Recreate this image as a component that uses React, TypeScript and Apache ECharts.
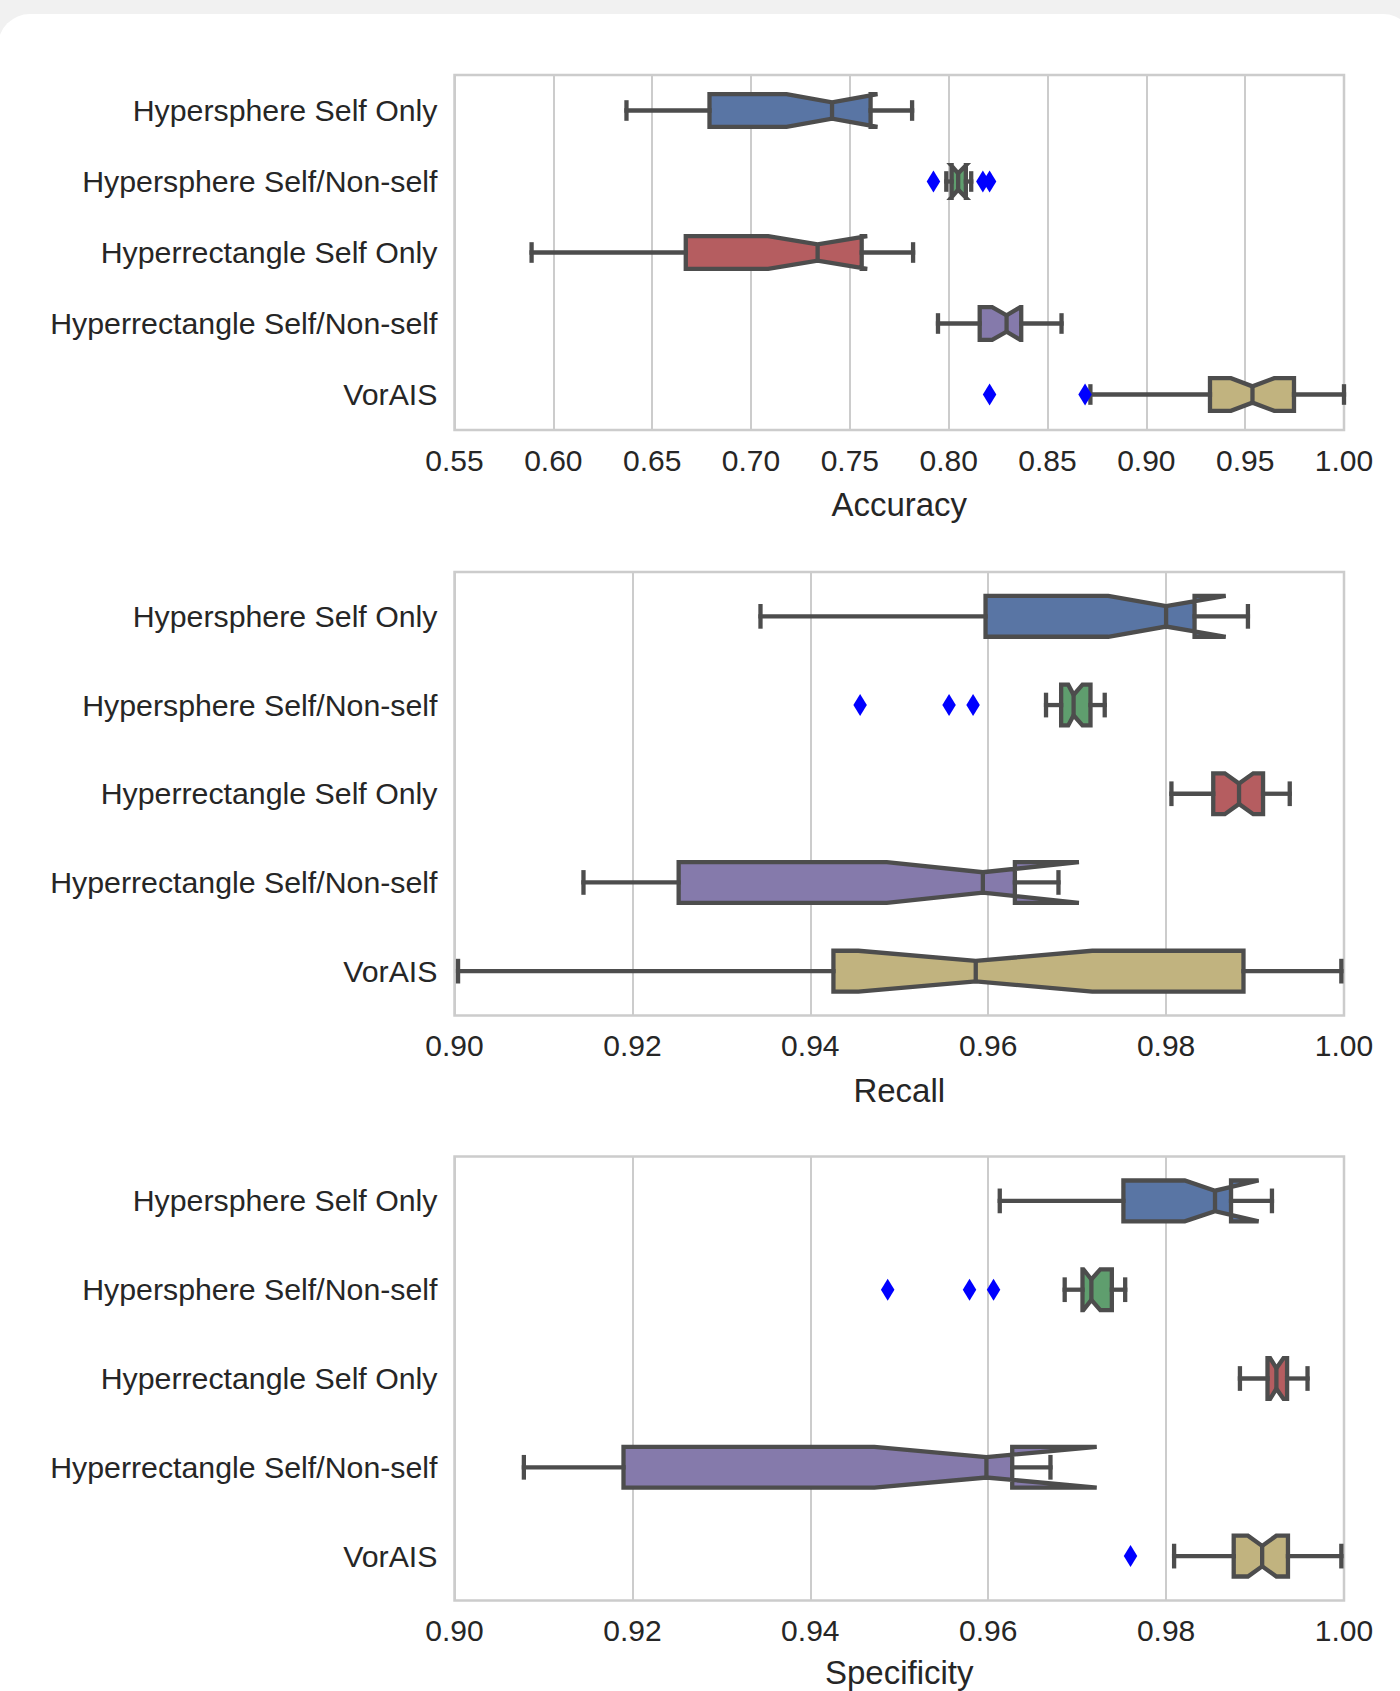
import React, { useEffect, useRef } from "react";
import * as echarts from "echarts";

const categories = [
  "Hypersphere Self Only",
  "Hypersphere Self/Non-self",
  "Hyperrectangle Self Only",
  "Hyperrectangle Self/Non-self",
  "VorAIS",
];

// each row: [whiskerLow, q1, notchLow, median, notchHigh, q3, whiskerHigh]
const accuracyBoxes = [
  [0.637, 0.679, 0.718, 0.741, 0.764, 0.7605, 0.7815],
  [0.7988, 0.8015, 0.8012, 0.8048, 0.8088, 0.8087, 0.8114],
  [0.589, 0.667, 0.7087, 0.7337, 0.7588, 0.756, 0.782],
  [0.7946, 0.8157, 0.822, 0.8293, 0.8362, 0.8367, 0.8571],
  [0.8717, 0.9322, 0.9428, 0.9537, 0.9647, 0.9747, 1.0],
];
const accuracyOutlierValues = [0.7923, 0.8173, 0.8207, 0.8207, 0.869];
const accuracyOutlierRows = [1, 1, 1, 4, 4];

const recallBoxes = [
  [0.9344, 0.9597, 0.9735, 0.98, 0.9867, 0.9832, 0.9892],
  [0.9665, 0.9682, 0.969, 0.9696, 0.9706, 0.9715, 0.9731],
  [0.9806, 0.9853, 0.9866, 0.9882, 0.9898, 0.9909, 0.9939],
  [0.9145, 0.9252, 0.9486, 0.9594, 0.9702, 0.963, 0.9679],
  [0.9004, 0.9426, 0.9454, 0.9586, 0.9717, 0.9887, 0.9997],
];
const recallOutlierValues = [0.9456, 0.9556, 0.9583];
const recallOutlierRows = [1, 1, 1];

const specificityBoxes = [
  [0.9613, 0.9752, 0.9821, 0.9855, 0.9904, 0.9873, 0.9919],
  [0.9686, 0.9706, 0.9707, 0.9716, 0.9726, 0.9739, 0.9754],
  [0.9883, 0.9914, 0.9917, 0.9924, 0.9932, 0.9936, 0.9959],
  [0.9078, 0.919, 0.9472, 0.9598, 0.9722, 0.9627, 0.967],
  [0.9809, 0.9876, 0.9892, 0.9908, 0.9924, 0.9937, 0.9997],
];
const specificityOutlierValues = [0.9487, 0.9579, 0.9606, 0.976];
const specificityOutlierRows = [1, 1, 1, 4];

const metricNames = ["Accuracy", "Recall", "Specificity"];
const axisMins = [0.55, 0.9, 0.9];
const axisMaxs = [1.0, 1.0, 1.0];
const axisIntervals = [0.05, 0.02, 0.02];

// styles / layout
const boxColors = ["#5975a4", "#5f9e6e", "#b55d60", "#857aab", "#c1b37f"];
const EDGE = "#4d4d4d";
const LW = 4.3;
const BOX_FRAC = 0.46;
const TEXT = "#262626";
const FONT = "'Liberation Sans', Arial, Helvetica, sans-serif";
const gridTops = [75, 572, 1156.5];
const gridHeights = [355, 443.5, 444];
const nameGaps = [58, 58, 55];
const GRID_LEFT = 454.5;
const GRID_WIDTH = 889.5;

function renderBox(params: any, api: any) {
  const cat = api.value(7);
  const lo = api.value(0);
  const q1 = api.value(1);
  const clo = api.value(2);
  const med = api.value(3);
  const chi = api.value(4);
  const q3 = api.value(5);
  const hi = api.value(6);
  const sz = api.size([0, 1]);
  const band = sz && sz[1] ? sz[1] : 80;
  const h = (band * BOX_FRAC) / 2;
  const yc = api.coord([med, cat])[1];
  const X = (v: number) => api.coord([v, cat])[0];
  const color = boxColors[cat % boxColors.length];
  const ls = { stroke: EDGE, lineWidth: LW, fill: null, lineCap: "square" };
  const cap = h / 2;
  return {
    type: "group",
    children: [
      {
        type: "polygon",
        shape: {
          points: [
            [X(q1), yc - h],
            [X(clo), yc - h],
            [X(med), yc - h / 2],
            [X(chi), yc - h],
            [X(q3), yc - h],
            [X(q3), yc + h],
            [X(chi), yc + h],
            [X(med), yc + h / 2],
            [X(clo), yc + h],
            [X(q1), yc + h],
          ],
        },
        style: { fill: color, stroke: EDGE, lineWidth: LW, lineJoin: "miter", miterLimit: 4 },
      },
      { type: "line", shape: { x1: X(lo), y1: yc, x2: X(q1), y2: yc }, style: ls },
      { type: "line", shape: { x1: X(q3), y1: yc, x2: X(hi), y2: yc }, style: ls },
      { type: "line", shape: { x1: X(lo), y1: yc - cap, x2: X(lo), y2: yc + cap }, style: ls },
      { type: "line", shape: { x1: X(hi), y1: yc - cap, x2: X(hi), y2: yc + cap }, style: ls },
      { type: "line", shape: { x1: X(med), y1: yc - h / 2, x2: X(med), y2: yc + h / 2 }, style: { ...ls, lineCap: "butt" } },
    ],
  };
}

function buildOption() {
  const boxSets = [accuracyBoxes, recallBoxes, specificityBoxes];
  const outVals = [accuracyOutlierValues, recallOutlierValues, specificityOutlierValues];
  const outRows = [accuracyOutlierRows, recallOutlierRows, specificityOutlierRows];
  const grid: any[] = [];
  const xAxis: any[] = [];
  const yAxis: any[] = [];
  const series: any[] = [];
  for (let k = 0; k < 3; k++) {
    grid.push({
      left: GRID_LEFT,
      top: gridTops[k],
      width: GRID_WIDTH,
      height: gridHeights[k],
      show: true,
      borderColor: "#cccccc",
      borderWidth: 2.5,
      backgroundColor: "transparent",
      containLabel: false,
      outerBoundsMode: "none",
    });
    xAxis.push({
      type: "value",
      gridIndex: k,
      min: axisMins[k],
      max: axisMaxs[k],
      interval: axisIntervals[k],
      name: metricNames[k],
      nameLocation: "middle",
      nameGap: nameGaps[k],
      nameTextStyle: { fontSize: 33, color: TEXT, fontFamily: FONT },
      axisLine: { show: false },
      axisTick: { show: false },
      axisLabel: {
        show: true,
        margin: 15,
        fontSize: 30,
        color: TEXT,
        fontFamily: FONT,
        showMinLabel: true,
        showMaxLabel: true,
        hideOverlap: false,
        formatter: (v: number) => v.toFixed(2),
      },
      splitLine: { show: true, lineStyle: { color: "#cccccc", width: 2 } },
    });
    yAxis.push({
      type: "category",
      gridIndex: k,
      data: categories,
      inverse: true,
      axisLine: { show: false },
      axisTick: { show: false },
      splitLine: { show: false },
      axisLabel: { margin: 17, fontSize: 30.3, color: TEXT, fontFamily: FONT, interval: 0 },
    });
    series.push({
      type: "custom",
      xAxisIndex: k,
      yAxisIndex: k,
      renderItem: renderBox,
      encode: { x: [0, 1, 2, 3, 4, 5, 6], y: 7 },
      data: boxSets[k].map((b, i) => [...b, i]),
      z: 2,
      silent: true,
    });
    series.push({
      type: "scatter",
      xAxisIndex: k,
      yAxisIndex: k,
      symbol: "diamond",
      symbolSize: [13.5, 22],
      itemStyle: { color: "#0000ff", opacity: 1 },
      data: outVals[k].map((v, i) => [v, outRows[k][i]]),
      z: 3,
      silent: true,
    });
  }
  return {
    animation: false,
    backgroundColor: "transparent",
    textStyle: { fontFamily: FONT },
    grid,
    xAxis,
    yAxis,
    series,
  };
}

export default function App() {
  const ref = useRef<HTMLDivElement>(null);
  useEffect(() => {
    if (!ref.current) return;
    const chart = echarts.init(ref.current, undefined, { renderer: "svg" });
    chart.setOption(buildOption() as any);
    return () => chart.dispose();
  }, []);
  return (
    <div
      style={{
        position: "absolute",
        left: 0,
        top: 0,
        width: 1400,
        height: 1691,
        background: "#f1f1f1",
        overflow: "hidden",
      }}
    >
      <div
        style={{
          position: "absolute",
          left: -2,
          top: 14,
          width: 1417,
          height: 1740,
          background: "#ffffff",
          borderRadius: 32,
        }}
      />
      <div
        ref={ref}
        style={{ position: "absolute", left: 0, top: 0, width: 1400, height: 1691 }}
      />
    </div>
  );
}
